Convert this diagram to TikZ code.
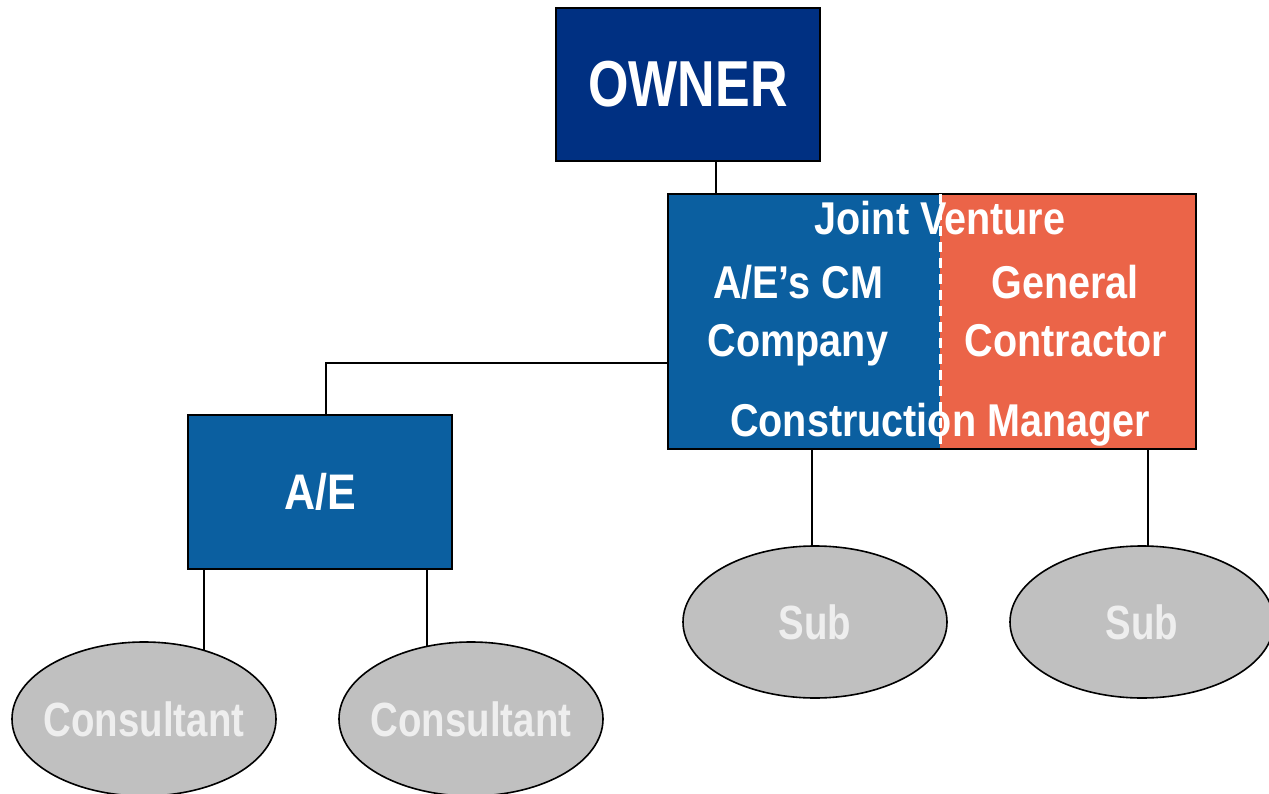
\documentclass[tikz,border=0pt]{standalone}
\usepackage{fontspec}
\setmainfont{Liberation Sans}
\newfontfamily\narrowfont[FakeStretch=0.8]{Liberation Sans}
\newfontfamily\midfont[FakeStretch=0.86]{Liberation Sans}
\usetikzlibrary{shapes.geometric,backgrounds}
\definecolor{ownerblue}{RGB}{0,48,130}
\definecolor{midblue}{RGB}{11,95,160}
\definecolor{gcorange}{RGB}{235,100,72}
\definecolor{subgray}{RGB}{192,192,192}
\definecolor{subtext}{RGB}{238,238,238}
\begin{document}
\begin{tikzpicture}[x=1pt,y=-1pt,
  boxstyle/.style={draw=black,line width=2.2pt,inner sep=0pt,outer sep=0pt,anchor=north west,
    text=white,font=\midfont\bfseries\fontsize{50}{56}\selectfont},
  ovalstyle/.style={ellipse,draw=black,line width=1.6pt,fill=subgray,inner sep=0pt,
    minimum width=264pt,minimum height=154pt},
  ovaltext/.style={text=subtext,inner sep=0pt,
    font=\narrowfont\bfseries\fontsize{48}{56}\selectfont},
  wtext/.style={text=white,inner sep=0pt,anchor=base,
    font=\midfont\bfseries\fontsize{46}{57}\selectfont},
  link/.style={draw=black,line width=1.5pt}]
\useasboundingbox (0,0) rectangle (1269,794);
% boxes
\node[boxstyle,fill=ownerblue,minimum width=264pt,minimum height=153pt,
  font=\narrowfont\bfseries\fontsize{65}{70}\selectfont] (owner) at (556,8) {OWNER};
\fill[midblue] (668,194) rectangle (940,449);
\fill[gcorange] (940,194) rectangle (1196,449);
\node[boxstyle,minimum width=528pt,minimum height=255pt] (jv) at (668,194) {};
\draw[white,line width=3pt,dash pattern=on 10pt off 6pt]
  ([xshift=272pt]jv.north west) -- ([xshift=272pt]jv.south west);
\node[wtext] (jvt) at (940,235) {Joint Venture};
\node[wtext] (aecm) at (798,299) {A/E’s CM};
\node[wtext] (comp) at (798,356) {Company};
\node[wtext] (gen) at (1065,299) {General};
\node[wtext] (contr) at (1066,356) {Contractor};
\node[wtext] (cmt) at (940,436) {Construction Manager};
\node[boxstyle,fill=midblue,minimum width=264pt,minimum height=154pt] (ae) at (188,415) {A/E};
% ovals
\node[ovalstyle,label={[ovaltext]center:Consultant}] (c1) at (144,719) {};
\node[ovalstyle,label={[ovaltext]center:Consultant}] (c2) at (471,719) {};
\node[ovalstyle,minimum height=152pt,label={[ovaltext]center:Sub}] (s1) at (815,622) {};
\node[ovalstyle,minimum height=152pt,label={[ovaltext]center:Sub}] (s2) at (1142,622) {};
% connectors
\begin{scope}[on background layer]
\draw[link] ([xshift=160pt]owner.south west) -- ([xshift=160pt]owner.south west |- jv.north);
\draw[link] ([yshift=-169pt]jv.north west) -| ([xshift=138pt]ae.north west);
\draw[link] ([xshift=16pt]ae.south west) -- ([xshift=16pt]ae.south west |- c1.center);
\draw[link] ([xshift=239pt]ae.south west) -- ([xshift=239pt]ae.south west |- c2.center);
\draw[link] ([xshift=144pt]jv.south west) -- ([xshift=144pt]jv.south west |- s1.center);
\draw[link] ([xshift=480pt]jv.south west) -- ([xshift=480pt]jv.south west |- s2.center);
\end{scope}
\end{tikzpicture}
\end{document}
